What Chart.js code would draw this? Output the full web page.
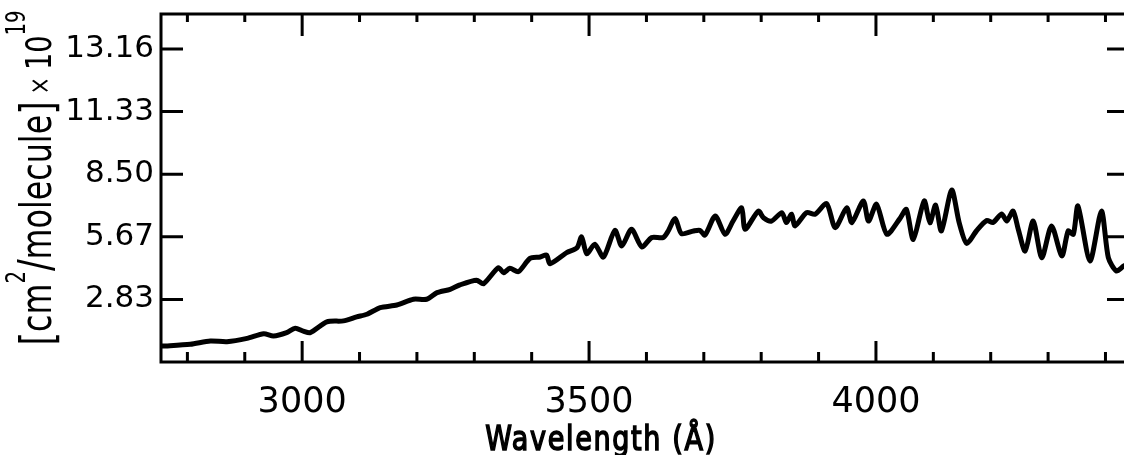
<!DOCTYPE html>
<html><head><meta charset="utf-8">
<script src="https://cdn.jsdelivr.net/npm/chart.js@4/dist/chart.umd.min.js"></script>
<style>
html,body{margin:0;padding:0;background:#fff;overflow:hidden;width:1124px;height:455px;}
#wrap{position:absolute;left:0;top:0;width:1132px;height:455px;}
</style></head><body>
<div id="wrap"><canvas id="c"></canvas></div>
<script>
// Wavelength (Angstrom)
const wavelengths = [2756, 2805, 2840, 2869, 2904, 2933, 2950, 2973, 2988, 3002,
  3014, 3043, 3072, 3095, 3113, 3136, 3165, 3194, 3217, 3235,
  3258, 3275, 3304, 3316, 3342, 3351, 3362, 3377, 3397, 3415,
  3426, 3432, 3461, 3479, 3487, 3496, 3510, 3525, 3545, 3557,
  3574, 3592, 3609, 3629, 3638, 3650, 3661, 3682, 3693, 3702,
  3720, 3737, 3751, 3766, 3772, 3795, 3804, 3818, 3836, 3844,
  3853, 3859, 3879, 3894, 3914, 3929, 3949, 3958, 3978, 3987,
  4001, 4019, 4042, 4053, 4065, 4084, 4094, 4104, 4114, 4132,
  4145, 4158, 4175, 4193, 4204, 4219, 4228, 4239, 4248, 4260,
  4274, 4289, 4306, 4324, 4335, 4344, 4352, 4373, 4393, 4405,
  4419, 4432, 4441];
// Cross section [cm^2/molecule] x 10^19
const crossSection = [0.72, 0.80, 0.95, 0.92, 1.07, 1.28, 1.18, 1.33, 1.53, 1.40,
  1.33, 1.82, 1.86, 2.04, 2.16, 2.46, 2.58, 2.84, 2.84, 3.14,
  3.29, 3.49, 3.70, 3.54, 4.27, 4.04, 4.24, 4.09, 4.69, 4.75,
  4.84, 4.45, 4.95, 5.17, 5.66, 4.90, 5.33, 4.75, 5.96, 5.25,
  6.01, 5.21, 5.63, 5.63, 5.93, 6.50, 5.81, 5.93, 5.96, 5.75,
  6.61, 5.78, 6.38, 6.98, 6.01, 6.83, 6.53, 6.38, 6.76, 6.31,
  6.69, 6.16, 6.76, 6.69, 7.17, 6.08, 6.98, 6.31, 7.29, 6.38,
  7.14, 5.78, 6.50, 6.91, 5.55, 7.29, 6.30, 7.10, 5.93, 7.78,
  6.31, 5.37, 5.93, 6.40, 6.31, 6.70, 6.38, 6.83, 6.01, 5.02,
  6.38, 4.72, 6.16, 4.80, 5.93, 5.78, 7.06, 4.57, 6.83, 4.72,
  4.12, 4.35, 4.45];

const xLabelTicks = [3000, 3500, 4000];
const xMinorTicks = [2800, 2900, 3000, 3100, 3200, 3300, 3400, 3500, 3600, 3700,
  3800, 3900, 4000, 4100, 4200, 4300, 4400];
const yTickValues = [2.833, 5.667, 8.5, 11.333, 14.167];
const yTickLabels = ['2.83', '5.67', '8.50', '11.33', '13.16'];
const xTitleText = 'Wavelength (Å)';
const yTitleParts = ['[', 'cm', '2', '/', 'molecule', ']', ' × ', '10', '19'];

const X_MIN = 2754, X_MAX = 4441, Y_MIN = 0, Y_MAX = 15.75;

// style per y-title part: [fontSize, raise]
const yTitleStyle = [[46, 2], [42, 0], [26, -26], [46, 0], [42, 0], [46, 2], [28, -2], [36, 0], [26, -26]];

const framePlugin = {
  id: 'frame',
  afterDatasetsDraw(chart) {
    const {ctx, chartArea: a, scales: {x, y}} = chart;
    ctx.save();
    ctx.strokeStyle = '#000';
    ctx.lineWidth = 3;
    ctx.strokeRect(a.left, a.top, a.right - a.left, a.bottom - a.top);
    ctx.beginPath();
    xMinorTicks.forEach(v => {
      const px = x.getPixelForValue(v);
      const major = xLabelTicks.includes(v);
      ctx.moveTo(px, a.bottom); ctx.lineTo(px, a.bottom - (major ? 21 : 10));
      ctx.moveTo(px, a.top); ctx.lineTo(px, a.top + (major ? 22 : 8));
    });
    yTickValues.forEach(v => {
      const py = y.getPixelForValue(v);
      ctx.moveTo(a.left, py); ctx.lineTo(a.left + 22, py);
      ctx.moveTo(a.right, py); ctx.lineTo(a.right - 22, py);
    });
    ctx.stroke();

    // x title
    ctx.fillStyle = '#000';
    ctx.save();
    ctx.translate(601, 450);
    ctx.scale(0.82, 1);
    ctx.font = '33px "DejaVu Sans"';
    ctx.letterSpacing = '2px';
    ctx.textAlign = 'center';
    ctx.textBaseline = 'alphabetic';
    ctx.lineWidth = 1.6;
    ctx.fillText(xTitleText, 0, 0);
    ctx.strokeText(xTitleText, 0, 0);
    ctx.restore();

    // y title (rotated, with superscripts)
    ctx.save();
    ctx.translate(0, 178);
    ctx.rotate(-Math.PI / 2);
    ctx.textBaseline = 'alphabetic';
    ctx.textAlign = 'left';
    let widths = yTitleParts.map((t, i) => {
      ctx.font = yTitleStyle[i][0] + 'px "DejaVu Sans"';
      return ctx.measureText(t).width;
    });
    const natural = widths.reduce((s, w) => s + w, 0);
    const sx = 335 / natural;
    ctx.scale(sx, 1);
    let u = -natural / 2;
    yTitleParts.forEach((t, i) => {
      ctx.font = yTitleStyle[i][0] + 'px "DejaVu Sans"';
      ctx.fillText(t, u, 51 + yTitleStyle[i][1]);
      u += widths[i];
    });
    ctx.restore();
    ctx.restore();
  }
};

new Chart(document.getElementById('c'), {
  type: 'line',
  data: {
    datasets: [{
      data: wavelengths.map((w, i) => ({x: w, y: crossSection[i]})),
      borderColor: '#000',
      borderWidth: 5,
      pointRadius: 0,
      tension: 0.25,
      fill: false,
      borderJoinStyle: 'round',
      borderCapStyle: 'round'
    }]
  },
  options: {
    responsive: true,
    maintainAspectRatio: false,
    animation: false,
    layout: {padding: {left: 0, top: 14, right: 3, bottom: 0}},
    plugins: {legend: {display: false}, tooltip: {enabled: false}},
    scales: {
      x: {
        type: 'linear', min: X_MIN, max: X_MAX,
        grid: {display: false, drawTicks: false},
        border: {display: false},
        afterBuildTicks: s => { s.ticks = xLabelTicks.map(v => ({value: v})); },
        afterFit: s => { s.height = 93; s.paddingLeft = 0; s.paddingRight = 0; },
        ticks: {color: '#000', font: {family: 'DejaVu Sans', size: 35}, padding: 20,
          maxRotation: 0, autoSkip: false, callback: v => String(v)}
      },
      y: {
        min: Y_MIN, max: Y_MAX,
        grid: {display: false, drawTicks: false},
        border: {display: false},
        afterBuildTicks: s => { s.ticks = yTickValues.map(v => ({value: v})); },
        afterFit: s => { s.width = 161; s.paddingTop = 0; s.paddingBottom = 0; },
        ticks: {color: '#000', font: {family: 'DejaVu Sans', size: 31}, padding: 7,
          autoSkip: false, callback: (v, i) => yTickLabels[i]}
      }
    }
  },
  plugins: [framePlugin]
});
</script>
</body></html>
